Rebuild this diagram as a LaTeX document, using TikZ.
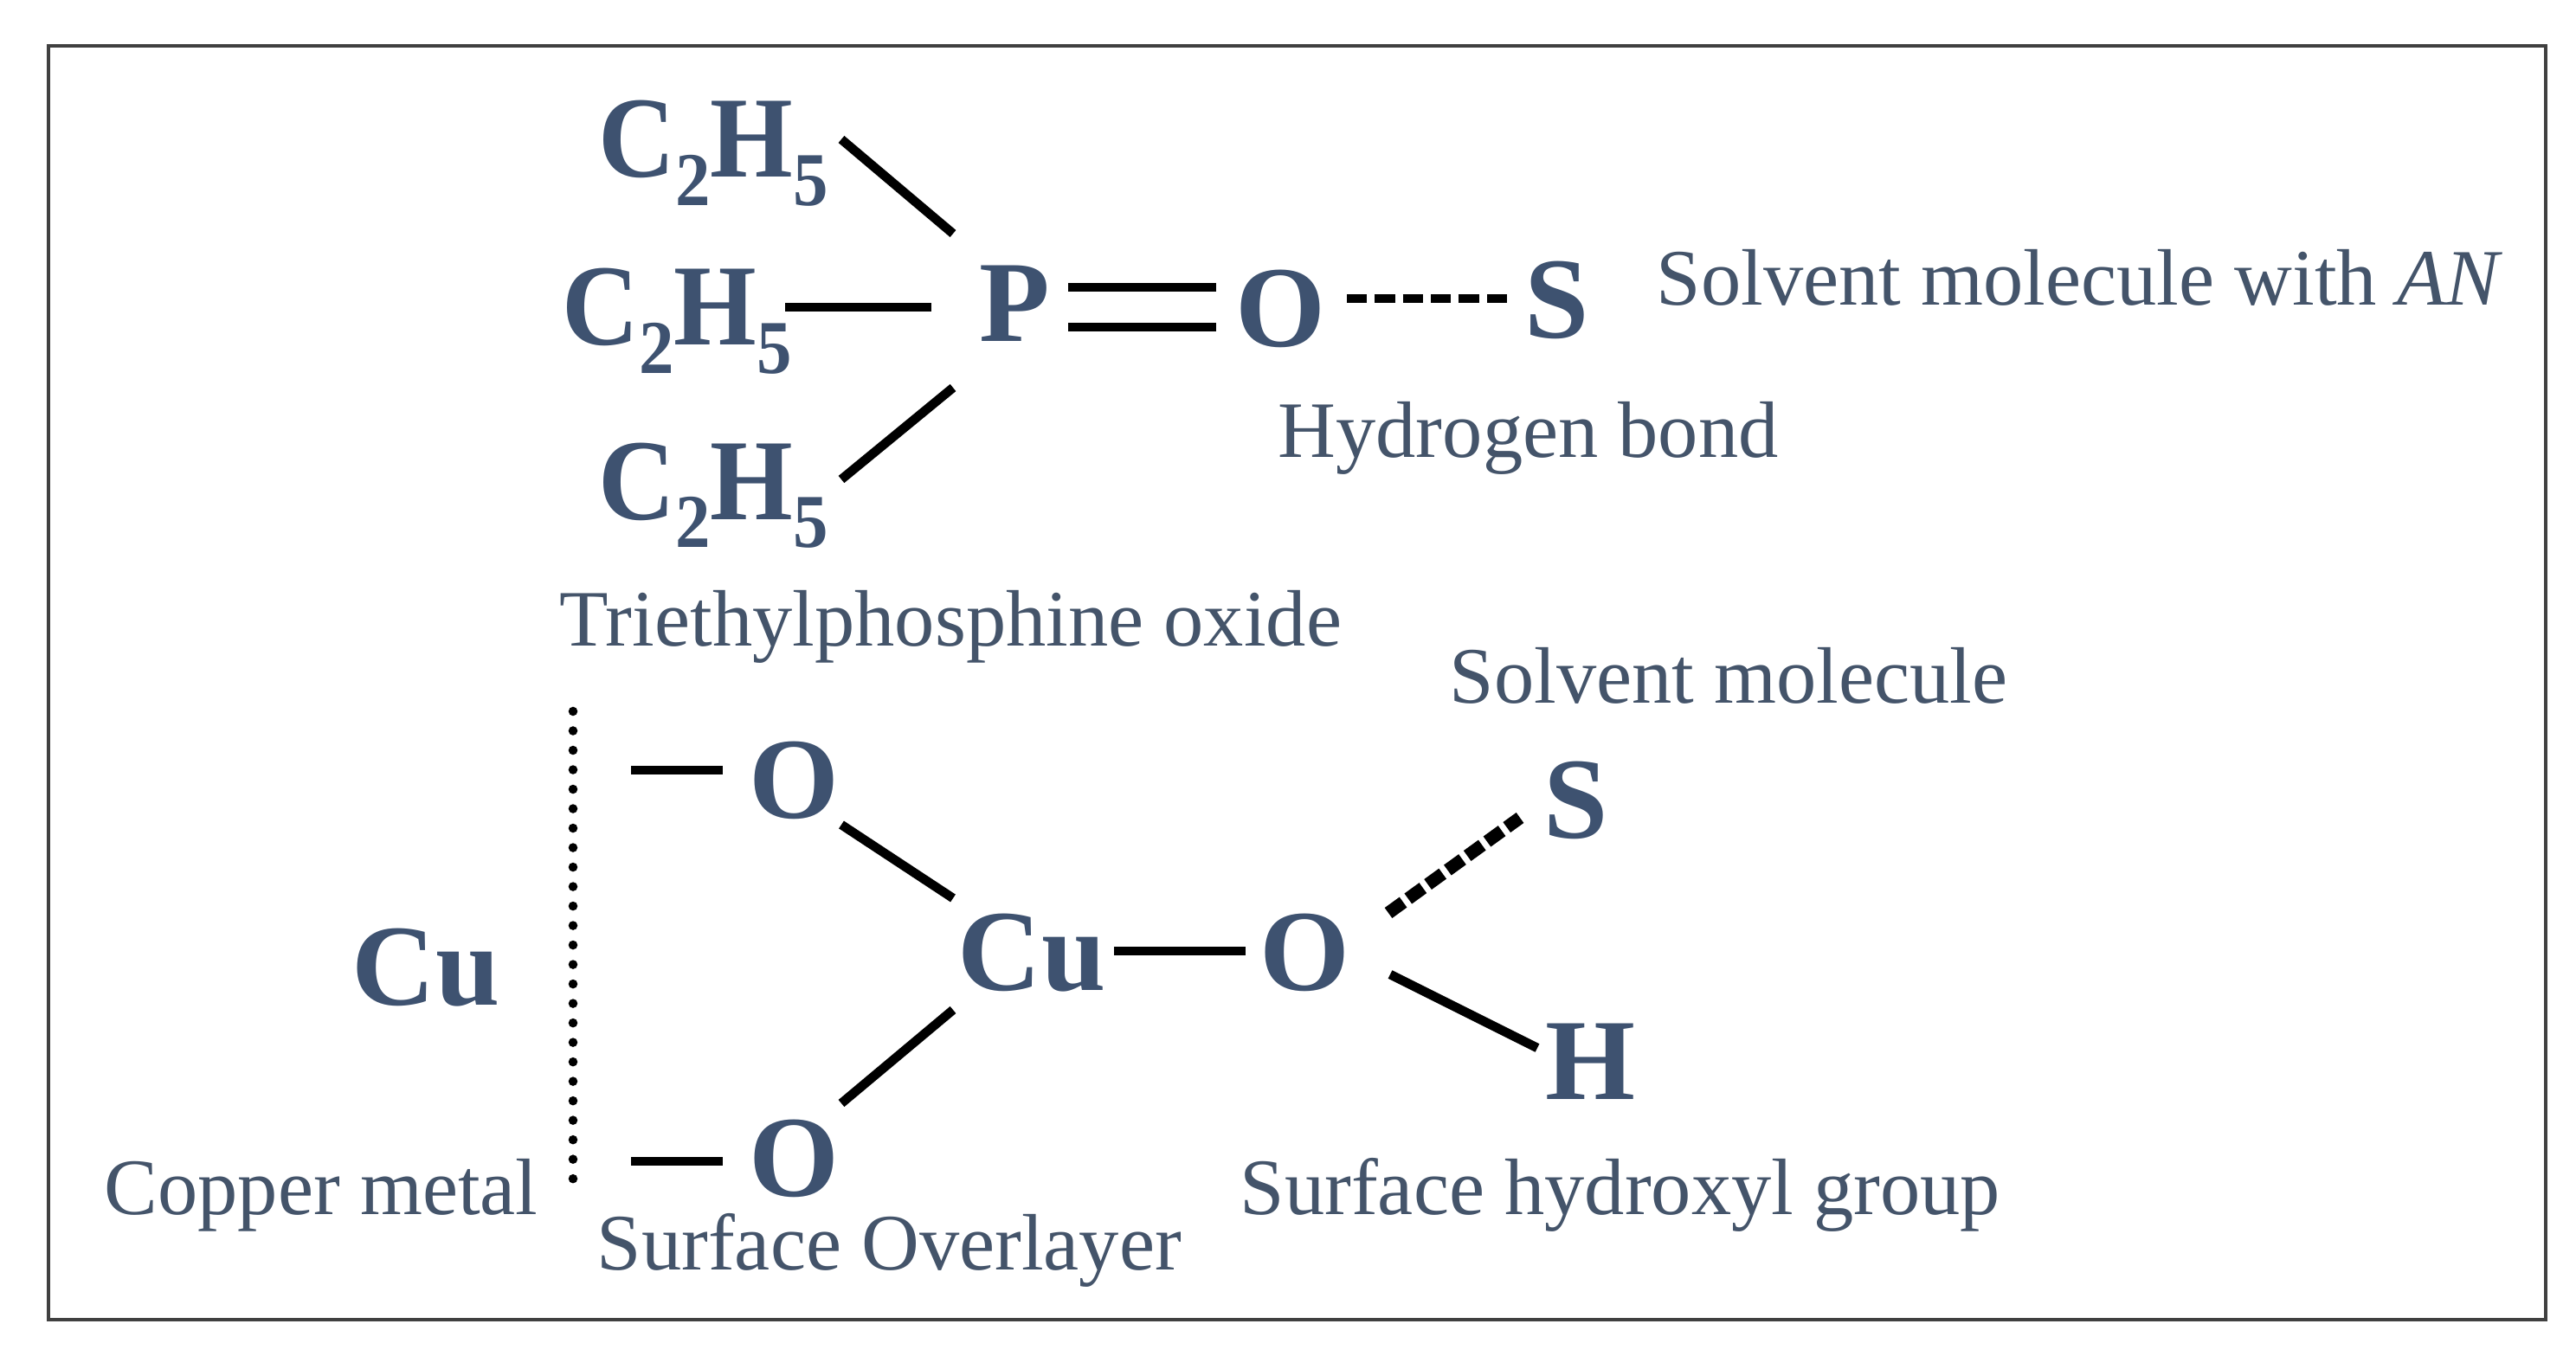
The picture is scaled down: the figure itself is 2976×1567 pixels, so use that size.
\documentclass[tikz,border=0pt]{standalone}
\usepackage{fontspec}
\setmainfont{Liberation Serif}
\definecolor{slate}{HTML}{44546A}
\definecolor{atomblue}{HTML}{3E5270}
\newcommand{\ethyl}{\scalebox{0.92}[1]{C\raisebox{-0.24em}{\fontsize{25}{25}\selectfont 2}H\raisebox{-0.24em}{\fontsize{25}{25}\selectfont 5}}}
\begin{document}
\begin{tikzpicture}[x=0.01cm,y=-0.01cm,
atom/.style={anchor=base west,inner sep=0pt,text=atomblue,font=\fontsize{38}{40}\selectfont\bfseries},
note/.style={anchor=base west,inner sep=0pt,text=slate,font=\fontsize{26.3}{28}\selectfont},
bond/.style={line width=3pt},
hbond/.style={line width=3pt,dash pattern=on 6.6pt off 2.6pt},
sbond/.style={line width=4.2pt,dash pattern=on 6pt off 2pt},
metal/.style={line width=3pt,line cap=round,dash pattern=on 0pt off 6.4pt}]
\useasboundingbox (0,0) rectangle (2976,1567);
\node[draw=black!75,line width=1.1pt,minimum width=28.83cm,minimum height=14.71cm,anchor=north west,inner sep=0pt] (frame) at (54,51) {};

\node[atom] (C1) at (691,205) {\ethyl};
\node[atom] (C2) at (649,399) {\ethyl};
\node[atom] (C3) at (691,600) {\ethyl};
\node[atom] (P) at (1131,395) {P};
\node[atom] (O1) at (1427,400) {O};
\node[atom] (S1) at (1761,391) {S};

\node[atom] (O2) at (865,945) {O};
\node[atom] (O3) at (865,1382) {O};
\node[atom] (Cu1) at (1106,1144) {Cu};
\node[atom] (O4) at (1455,1144) {O};
\node[atom] (S2) at (1783,968) {S};
\node[atom] (H) at (1785,1270) {H};
\node[atom] (Cu2) at (406,1161) {Cu};

\node[note] (an) at (1913,353) {Solvent molecule with \textit{AN}};
\node[note] (hb) at (1476,528) {Hydrogen bond};
\node[note] (teo) at (646,746) {Triethylphosphine oxide};
\node[note] (sm) at (1674,812) {Solvent molecule};
\node[note] (cm) at (120,1403) {Copper metal};
\node[note] (so) at (689,1467) {Surface Overlayer};
\node[note] (oh) at (1432,1403) {Surface hydroxyl group};

\coordinate (top) at (662,822);
\coordinate (bot) at (662,1363);
\coordinate (stub1) at (729,890);
\coordinate (stub2) at (729,1342);

\draw[bond] ([shift={(281,-44)}]C1.base west) -- ([shift={(-30,-125)}]P.base west);
\draw[bond] ([shift={(258,-44)}]C2.base west) -- ([shift={(-55,-40)}]P.base west);
\draw[bond] ([shift={(281,-46)}]C3.base west) -- ([shift={(-30,53)}]P.base west);
\draw[bond] ([shift={(103,-63)}]P.base west) -- ([shift={(-22,-68)}]O1.base west);
\draw[bond] ([shift={(103,-17)}]P.base west) -- ([shift={(-22,-22)}]O1.base west);
\draw[hbond] ([shift={(129,-55)}]O1.base west) -- ([shift={(-11,-46)}]S1.base west);

\draw[metal] (top) -- (bot);
\draw[bond] (stub1) -- ([shift={(-30,-55)}]O2.base west);
\draw[bond] (stub2) -- ([shift={(-30,-40)}]O3.base west);
\draw[bond] ([shift={(107,8)}]O2.base west) -- ([shift={(-5,-106)}]Cu1.base west);
\draw[bond] ([shift={(107,-107)}]O3.base west) -- ([shift={(-5,23)}]Cu1.base west);
\draw[bond] ([shift={(181,-45)}]Cu1.base west) -- ([shift={(-16,-45)}]O4.base west);
\draw[sbond] ([shift={(149,-89)}]O4.base west) -- ([shift={(-27,-23)}]S2.base west);
\draw[bond] ([shift={(151,-18)}]O4.base west) -- ([shift={(-9,-59)}]H.base west);
\end{tikzpicture}
\end{document}
